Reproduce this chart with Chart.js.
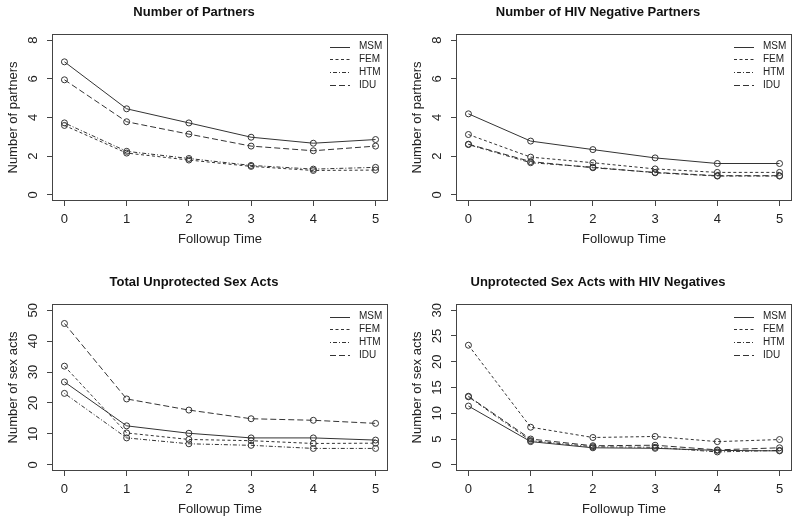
<!DOCTYPE html>
<html lang="en">
<head>
  <meta charset="UTF-8">
  <title>Followup outcomes by group</title>
  <script src="https://cdn.jsdelivr.net/npm/chart.js"></script>
  <style>
    body { margin: 0; background: #fff; overflow: hidden; }
    #page { position: relative; width: 800px; height: 524px; }
    canvas { position: absolute; }
  </style>
</head>
<body>
  <div id="page">
    <canvas id="c1" width="400" height="262" style="left:0;top:0"></canvas>
    <canvas id="c2" width="396" height="262" style="left:404px;top:0"></canvas>
    <canvas id="c3" width="400" height="262" style="left:0;top:270px"></canvas>
    <canvas id="c4" width="396" height="262" style="left:404px;top:270px"></canvas>
  </div>

  <script>
    // data
    const followup = [0, 1, 2, 3, 4, 5];
    const groups = ['MSM', 'FEM', 'HTM', 'IDU'];

    const partnersMSM = [6.88, 4.45, 3.72, 2.98, 2.67, 2.86];
    const partnersFEM = [3.59, 2.16, 1.80, 1.47, 1.26, 1.28];
    const partnersHTM = [3.72, 2.25, 1.88, 1.52, 1.33, 1.42];
    const partnersIDU = [5.95, 3.78, 3.14, 2.52, 2.28, 2.52];

    const negPartnersMSM = [4.19, 2.78, 2.34, 1.91, 1.62, 1.62];
    const negPartnersFEM = [3.12, 1.95, 1.66, 1.34, 1.16, 1.16];
    const negPartnersHTM = [2.60, 1.66, 1.43, 1.14, 0.97, 0.97];
    const negPartnersIDU = [2.62, 1.72, 1.40, 1.16, 0.99, 0.99];

    const actsMSM = [26.8, 12.6, 10.2, 8.7, 8.7, 8.0];
    const actsFEM = [31.9, 10.3, 8.2, 7.8, 6.9, 7.0];
    const actsHTM = [23.1, 8.7, 6.8, 6.3, 5.3, 5.3];
    const actsIDU = [45.7, 21.3, 17.7, 14.9, 14.4, 13.4];

    const negActsMSM = [11.4, 4.5, 3.3, 3.2, 2.8, 2.7];
    const negActsFEM = [23.2, 7.3, 5.3, 5.5, 4.5, 4.9];
    const negActsHTM = [13.2, 4.7, 3.5, 3.4, 2.5, 2.8];
    const negActsIDU = [13.3, 5.0, 3.7, 3.8, 2.9, 3.3];

    const xTicks = [0, 1, 2, 3, 4, 5];
    const partnerTicks = [0, 2, 4, 6, 8];
    const actsTicks = [0, 10, 20, 30, 40, 50];
    const negActsTicks = [0, 5, 10, 15, 20, 25, 30];

    const FONT = '"Liberation Sans", Arial, Helvetica, sans-serif';
    const INK = '#222';
    const LINE = '#333';
    const dashes = [[], [3, 2.5], [1, 2, 4, 2], [6, 3]];
    Chart.defaults.font.family = FONT;

    // box, rotated y labels and the legend, R style
    const decor = {
      id: 'decor',
      afterDraw(chart) {
        const { ctx, chartArea: a } = chart;
        const ys = chart.scales.y;
        ctx.save();
        ctx.setLineDash([]);
        ctx.strokeStyle = '#444';
        ctx.lineWidth = 1;
        ctx.strokeRect(Math.round(a.left) + 0.5, Math.round(a.top) + 0.5,
          Math.round(a.right - a.left) - 1, Math.round(a.bottom - a.top) - 1);

        ctx.fillStyle = INK;
        ctx.font = '13px ' + FONT;
        ctx.textAlign = 'center';
        ctx.textBaseline = 'middle';
        ys.ticks.forEach(t => {
          ctx.save();
          ctx.translate(a.left - 19, ys.getPixelForValue(t.value));
          ctx.rotate(-Math.PI / 2);
          ctx.fillText(String(t.value), 0, 0);
          ctx.restore();
        });

        ctx.font = '10px ' + FONT;
        ctx.textAlign = 'left';
        chart.data.datasets.forEach((d, i) => {
          const y = a.top + 12.7 + i * 12.7;
          ctx.strokeStyle = LINE;
          ctx.setLineDash(d.borderDash);
          ctx.beginPath();
          ctx.moveTo(a.right - 58, Math.round(y) + 0.5);
          ctx.lineTo(a.right - 38, Math.round(y) + 0.5);
          ctx.stroke();
          ctx.fillText(d.label, a.right - 29, y);
        });
        ctx.restore();
      }
    };

    function makePanel(id, title, yLabel, series, yTicks) {
      const canvas = document.getElementById(id);
      const lo = yTicks[0], hi = yTicks[yTicks.length - 1];
      const pad = (hi - lo) * 0.04;
      const tickFont = { size: 13, family: FONT };
      new Chart(canvas, {
        type: 'line',
        data: {
          datasets: groups.map((g, i) => ({
            label: g,
            data: followup.map((x, j) => ({ x, y: series[i][j] })),
            borderColor: LINE,
            borderWidth: 1,
            borderDash: dashes[i],
            pointRadius: 3,
            pointBorderWidth: 1,
            pointBorderColor: LINE,
            pointBackgroundColor: 'rgba(0,0,0,0)',
            tension: 0
          }))
        },
        options: {
          responsive: false,
          animation: false,
          events: [],
          layout: { padding: { left: 0, top: 0, bottom: 0, right: canvas.width - 388 } },
          plugins: {
            legend: { display: false },
            tooltip: { enabled: false },
            title: {
              display: true, text: title, color: '#111',
              font: { size: 13, weight: 'bold', family: FONT },
              padding: { top: 5, bottom: 13.4 }
            }
          },
          scales: {
            x: {
              type: 'linear', min: -0.2, max: 5.2,
              afterBuildTicks: s => { s.ticks = xTicks.map(v => ({ value: v })); },
              afterFit: s => { s.height = 61; },
              border: { display: false },
              grid: { drawOnChartArea: false, drawTicks: true, tickLength: 5, color: '#444' },
              ticks: { font: tickFont, color: INK, padding: 6 },
              title: { display: true, text: 'Followup Time', color: INK, font: tickFont, padding: { top: 0, bottom: 15 } }
            },
            y: {
              type: 'linear', min: lo - pad, max: hi + pad,
              afterBuildTicks: s => { s.ticks = yTicks.map(v => ({ value: v })); },
              afterFit: s => { s.width = 52; },
              border: { display: false },
              grid: { drawOnChartArea: false, drawTicks: true, tickLength: 5, color: '#444' },
              ticks: { display: false },
              title: { display: true, text: yLabel, color: INK, font: tickFont, padding: { top: 5.5, bottom: 0 } }
            }
          }
        },
        plugins: [decor]
      });
    }

    makePanel('c1', 'Number of Partners', 'Number of partners',
      [partnersMSM, partnersFEM, partnersHTM, partnersIDU], partnerTicks);
    makePanel('c2', 'Number of HIV Negative Partners', 'Number of partners',
      [negPartnersMSM, negPartnersFEM, negPartnersHTM, negPartnersIDU], partnerTicks);
    makePanel('c3', 'Total Unprotected Sex Acts', 'Number of sex acts',
      [actsMSM, actsFEM, actsHTM, actsIDU], actsTicks);
    makePanel('c4', 'Unprotected Sex Acts with HIV Negatives', 'Number of sex acts',
      [negActsMSM, negActsFEM, negActsHTM, negActsIDU], negActsTicks);
  </script>
</body>
</html>
